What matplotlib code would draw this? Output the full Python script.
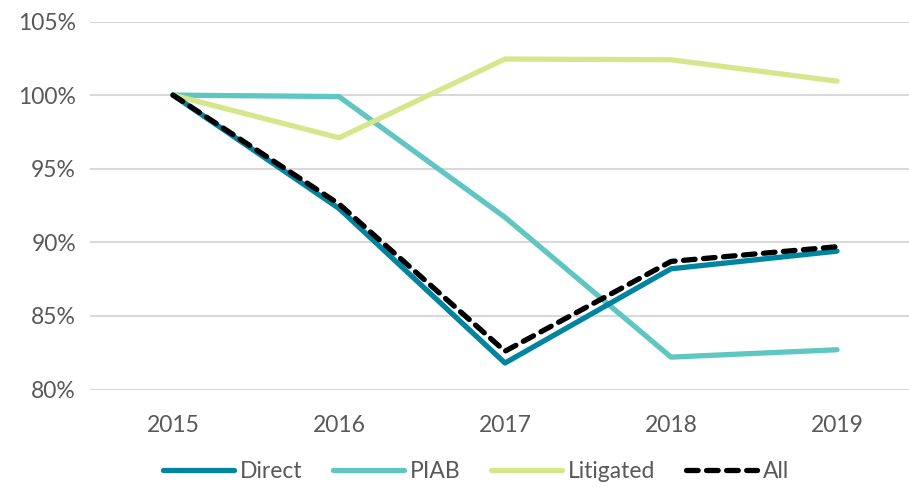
import matplotlib
matplotlib.use("Agg")
import matplotlib.pyplot as plt
from matplotlib.ticker import FuncFormatter

years = ["2015", "2016", "2017", "2018", "2019"]
direct = [100.0, 92.3, 81.8, 88.2, 89.4]
piab = [100.0, 99.9, 91.7, 82.2, 82.7]
litigated = [100.0, 97.1, 102.45, 102.4, 100.95]
all_ = [100.0, 92.6, 82.6, 88.7, 89.7]

plt.rcParams['font.family'] = ['Lato', 'DejaVu Sans']

fig = plt.figure(figsize=(9.09, 4.87), dpi=100)
ax = fig.add_axes([90/909, 1-389.5/487, (920-90)/909, (389.5-21.5)/487])

x = list(range(len(years)))
lw = 3.8
ax.plot(x, direct, color='#00849F', lw=lw, label='Direct', solid_capstyle='round', zorder=3)
ax.plot(x, piab, color='#5FC6C1', lw=lw, label='PIAB', solid_capstyle='round', zorder=2)
ax.plot(x, litigated, color='#D6E68C', lw=lw, label='Litigated', solid_capstyle='round', zorder=2)
ax.plot(x, all_, color='black', lw=lw, ls=(0, (2.2, 1.6)), label='All', dash_capstyle='round', zorder=4)

ax.set_xlim(-0.5, 4.5)
ax.set_ylim(80, 105)
ax.set_yticks([80, 85, 90, 95, 100, 105])
ax.yaxis.set_major_formatter(FuncFormatter(lambda v, p: f"{v:.0f}%"))
ax.set_xticks(x)
ax.set_xticklabels(years)
ax.grid(axis='y', color='#D9D9D9', lw=1.5)
ax.set_axisbelow(True)
for s in ax.spines.values():
    s.set_visible(False)
ax.tick_params(length=0, labelsize=16.5, labelcolor='#595959')
ax.tick_params(axis='x', pad=18)
ax.tick_params(axis='y', pad=10)

handles, labels = ax.get_legend_handles_labels()
leg = fig.legend(handles, labels, loc='center', bbox_to_anchor=(476/909, 1-472/487),
                 ncol=4, frameon=False, fontsize=16.5, handlelength=3.1,
                 columnspacing=1.35, handletextpad=0.25, borderaxespad=0)
for t in leg.get_texts():
    t.set_color('#595959')

fig.savefig('out.png', dpi=100)
